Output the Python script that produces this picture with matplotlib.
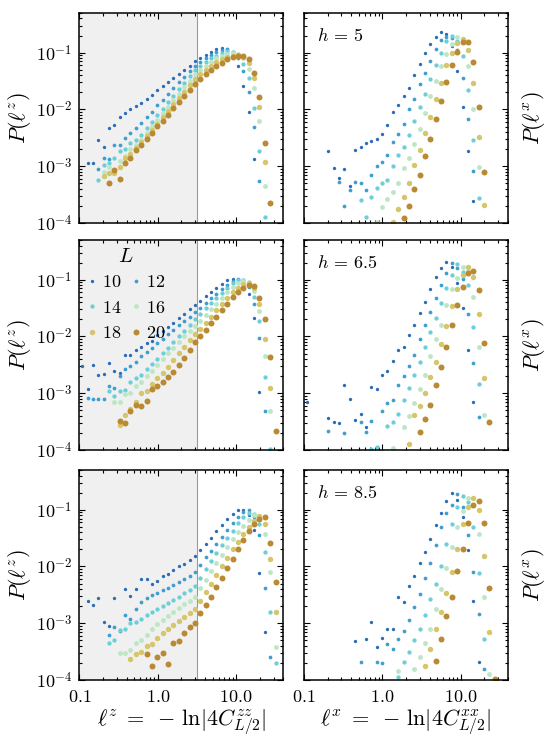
import numpy as np
import matplotlib
matplotlib.use('Agg')
import matplotlib.pyplot as plt
import matplotlib.ticker as ticker

plt.rcParams['mathtext.fontset'] = 'cm'
plt.rcParams['font.family'] = ['DejaVu Serif']

na = np.nan

# bin centres of the histograms (shared by every panel)
ell_bins = [0.1088, 0.1274, 0.1491, 0.1746, 0.2044, 0.2393, 0.2802, 0.3281, 0.3841,
            0.4498, 0.5266, 0.6166, 0.7220, 0.8453, 0.9897, 1.159, 1.357, 1.589,
            1.860, 2.178, 2.550, 2.985, 3.495, 4.093, 4.792, 5.610, 6.569, 7.691,
            9.005, 10.54, 12.35, 14.45, 16.92, 19.82, 23.20, 27.16, 31.81]

L_values = [10, 12, 14, 16, 18, 20]
h_values = ['5', '6.5', '8.5']
colors = ['#2b6cb7', '#3e9fcf', '#6ccfd8', '#bde7c4', '#d5c66b', '#b98a33']
msizes = [2.4, 2.7, 3.1, 3.5, 3.9, 4.3]
cut = 3.2   # end of the shaded region

# log10 P(l^z), h = 5 ; rows L = 10..20
z_h5 = [
    [na, -2.94, -2.94, -2.53, -2.66, -2.32, -2.27, -2.14, -2.06, -2.0, -1.94, -1.88, -1.81,
     -1.74, -1.66, -1.58, -1.51, -1.44, -1.37, -1.3, -1.23, -1.14, -1.09, -1.04, -0.99,
     -0.94, -0.91, -0.94, -1.04, -1.24, -1.58, -2.04, -2.88, na, na, na, na],
    [na, na, na, -3.05, -2.86, -2.88, -2.63, -2.62, -2.5, -2.42, -2.33, -2.24, -2.14,
     -2.04, -1.93, -1.83, -1.72, -1.62, -1.52, -1.42, -1.32, -1.23, -1.16, -1.1, -1.04,
     -0.99, -0.95, -0.94, -0.99, -1.1, -1.33, -1.7, -2.31, -3.26, na, na, na],
    [na, na, na, -3.24, -2.97, -2.94, -2.86, -2.73, -2.7, -2.6, -2.53, -2.45, -2.33,
     -2.22, -2.1, -1.99, -1.87, -1.76, -1.64, -1.53, -1.41, -1.3, -1.23, -1.16, -1.1,
     -1.05, -1.0, -0.97, -0.98, -1.04, -1.2, -1.45, -1.98, -2.74, -3.9, na, na],
    [na, na, na, na, -3.1, -3.02, -3.12, -2.9, -2.82, -2.7, -2.62, -2.53, -2.42,
     -2.3, -2.19, -2.07, -1.96, -1.84, -1.73, -1.61, -1.5, -1.38, -1.3, -1.23, -1.16,
     -1.1, -1.05, -1.02, -1.0, -1.02, -1.1, -1.28, -1.62, -2.2, -3.34, na, na],
    [na, na, na, na, -3.18, -3.12, -3.12, -3.02, -2.86, -2.78, -2.68, -2.58, -2.47,
     -2.36, -2.25, -2.13, -2.02, -1.91, -1.8, -1.69, -1.57, -1.46, -1.38, -1.3, -1.23,
     -1.17, -1.12, -1.08, -1.05, -1.04, -1.07, -1.18, -1.45, -1.96, -2.92, na, na],
    [na, na, na, na, na, -3.29, -3.06, -3.22, -2.95, -2.86, -2.72, -2.62, -2.52,
     -2.41, -2.3, -2.2, -2.09, -1.98, -1.87, -1.77, -1.66, -1.55, -1.46, -1.38, -1.31,
     -1.24, -1.18, -1.12, -1.08, -1.05, -1.06, -1.12, -1.35, -1.78, -2.6, -3.65, na],
]

# log10 P(l^x), h = 5
x_h5 = [
    [na, na, na, na, -2.74, -3.04, -3.2, -3.05, -3.35, -2.71, -2.67, -2.59, -2.55,
     -2.52, -2.43, -2.28, -2.05, -1.92, -1.76, -1.62, -1.39, -1.2, -1.01, -0.85, -0.72,
     -0.64, -0.67, -0.89, -1.33, -1.96, -2.74, -3.62, na, na, na, na, na],
    [na, na, na, na, na, na, -3.28, -3.7, -3.42, -3.27, -3.3, -3.42, -3.16,
     -3.0, -2.93, -2.81, -2.58, -2.43, -2.25, -2.0, -1.81, -1.56, -1.35, -1.14, -0.94,
     -0.78, -0.72, -0.74, -0.95, -1.45, -2.17, -3.08, na, na, na, na, na],
    [na, na, na, na, na, na, na, na, na, na, -3.6, -3.89, -3.55,
     -3.39, -3.29, -3.24, -3.0, -2.81, -2.66, -2.45, -2.21, -1.96, -1.73, -1.46, -1.22,
     -1.0, -0.8, -0.71, -0.8, -1.05, -1.66, -2.54, -3.56, na, na, na, na],
    [na, na, na, na, na, na, na, na, na, na, na, na, na,
     -3.98, -3.71, -3.57, -3.45, -3.29, -3.04, -2.86, -2.61, -2.35, -2.06, -1.77, -1.5,
     -1.24, -1.02, -0.84, -0.73, -0.78, -1.24, -1.99, -3.02, na, na, na, na],
    [na, na, na, na, na, na, na, na, na, na, na, na, na,
     na, na, na, -3.98, -3.76, -3.54, -3.3, -2.98, -2.72, -2.41, -2.13, -1.81,
     -1.54, -1.22, -1.0, -0.83, -0.76, -0.96, -1.53, -2.49, -3.69, na, na, na],
    [na, na, na, na, na, na, na, na, na, na, na, na, na,
     na, na, na, na, na, -3.92, -3.7, -3.41, -3.16, -2.82, -2.52, -2.16,
     -1.85, -1.52, -1.22, -0.98, -0.81, -0.82, -1.16, -1.95, -3.1, na, na, na],
]

# log10 P(l^z), h = 6.5
z_h65 = [
    [-2.52, -2.93, -2.51, -2.68, -2.66, -2.46, -2.6, -2.65, -2.33, -2.33, -2.24, -2.18, -2.12,
     -2.08, -1.98, -1.91, -1.84, -1.77, -1.68, -1.6, -1.52, -1.44, -1.37, -1.29, -1.21,
     -1.14, -1.07, -1.0, -0.98, -1.0, -1.07, -1.25, -1.67, -2.97, na, na, na],
    [na, -3.08, -3.1, -3.1, -3.1, -2.88, -2.9, -2.7, -2.58, -2.52, -2.45, -2.35, -2.28,
     -2.2, -2.12, -2.04, -1.96, -1.88, -1.8, -1.72, -1.65, -1.57, -1.49, -1.41, -1.33,
     -1.25, -1.17, -1.09, -1.03, -0.99, -1.01, -1.12, -1.42, -2.03, -3.32, na, na],
    [na, na, na, na, na, -2.96, -3.05, -2.96, -2.94, -2.81, -2.74, -2.68, -2.58,
     -2.48, -2.39, -2.3, -2.2, -2.1, -2.0, -1.9, -1.8, -1.7, -1.6, -1.5, -1.41,
     -1.32, -1.23, -1.14, -1.06, -1.01, -1.0, -1.08, -1.3, -1.72, -2.72, -3.98, na],
    [na, na, na, na, na, na, -3.16, -3.15, -3.02, -3.0, -2.88, -2.8, -2.7,
     -2.6, -2.5, -2.4, -2.3, -2.2, -2.1, -2.0, -1.91, -1.82, -1.72, -1.62, -1.52,
     -1.42, -1.32, -1.22, -1.13, -1.06, -1.02, -1.04, -1.2, -1.55, -2.35, -3.32, na],
    [na, na, na, na, na, na, na, -3.56, -3.38, -3.27, -3.15, -3.0, -2.96,
     -2.84, -2.74, -2.64, -2.54, -2.42, -2.3, -2.18, -2.06, -1.95, -1.86, -1.76, -1.65,
     -1.54, -1.43, -1.32, -1.22, -1.14, -1.08, -1.06, -1.14, -1.42, -2.05, -2.9, na],
    [na, na, na, na, na, na, na, -3.49, -3.52, -3.31, -3.2, -3.22, -3.13,
     -2.92, -2.88, -2.8, -2.72, -2.62, -2.5, -2.38, -2.24, -2.09, -2.0, -1.88, -1.77,
     -1.65, -1.53, -1.42, -1.31, -1.21, -1.14, -1.1, -1.11, -1.33, -1.7, -2.37, -3.66],
]

# log10 P(l^x), h = 6.5
x_h65 = [
    [-3.16, na, na, na, -3.43, -3.5, -3.52, -2.85, -3.1, -3.47, -3.36, -3.6, -2.89,
     -2.93, -2.68, -2.61, -2.43, -2.24, -2.18, -1.97, -1.8, -1.59, -1.4, -1.17, -0.96,
     -0.79, -0.68, -0.78, -1.05, -1.49, -2.23, -3.15, na, na, na, na, na],
    [na, na, na, na, -3.67, na, na, -3.7, na, na, -3.5, -3.68, -3.49,
     na, -3.31, -3.18, -3.12, -2.85, -2.69, -2.52, -2.33, -2.05, -1.79, -1.57, -1.32,
     -1.09, -0.88, -0.7, -0.8, -0.99, -1.6, -2.46, -3.42, na, na, na, na],
    [na, na, na, na, na, na, na, na, na, na, na, na, -3.98,
     -3.95, na, -3.57, -3.5, -3.36, -3.12, -2.91, -2.68, -2.45, -2.19, -1.93, -1.68,
     -1.41, -1.15, -0.91, -0.73, -0.87, -1.1, -1.84, -2.84, na, na, na, na],
    [na, na, na, na, na, na, na, na, na, na, na, na, na,
     na, na, na, -3.97, na, -3.6, -3.4, -3.18, -2.92, -2.68, -2.35, -2.05,
     -1.79, -1.45, -1.17, -0.97, -0.77, -0.85, -1.3, -2.19, -3.39, na, na, na],
    [na, na, na, na, na, na, na, na, na, na, na, na, na,
     na, na, na, na, na, na, -3.9, -3.38, -3.22, -3.0, -2.72, -2.45,
     -2.14, -1.82, -1.47, -1.16, -0.92, -0.78, -0.96, -1.61, -2.74, na, na, na],
    [na, na, na, na, na, na, na, na, na, na, na, na, na,
     na, na, na, na, na, na, na, na, -3.69, -3.45, -3.2, -2.86,
     -2.53, -2.19, -1.8, -1.45, -1.12, -0.88, -0.84, -1.19, -2.11, -3.51, na, na],
]

# log10 P(l^z), h = 8.5
z_h85 = [
    [na, -2.6, -2.68, -2.56, -2.97, -3.04, -2.55, na, -2.4, -2.52, -2.4, -2.22, -2.22,
     -2.3, -2.25, -2.17, -2.13, -2.07, -2.0, -1.95, -1.89, -1.82, -1.71, -1.6, -1.49,
     -1.38, -1.27, -1.16, -1.07, -1.01, -1.01, -1.1, -1.35, -2.11, -3.16, na, na],
    [na, na, na, na, na, -3.2, -3.07, -3.13, -2.85, -2.92, -2.75, -2.62, -2.56,
     -2.5, -2.47, -2.42, -2.38, -2.33, -2.28, -2.22, -2.17, -2.1, -1.97, -1.84, -1.72,
     -1.6, -1.48, -1.36, -1.24, -1.13, -1.04, -1.01, -1.12, -1.45, -2.37, -3.59, na],
    [na, na, na, na, na, -3.35, -3.3, -3.12, -3.1, -3.0, -2.98, -2.92, -2.85,
     -2.8, -2.75, -2.7, -2.64, -2.59, -2.53, -2.47, -2.41, -2.35, -2.2, -2.05, -1.91,
     -1.77, -1.63, -1.5, -1.37, -1.24, -1.12, -1.06, -1.08, -1.25, -1.75, -2.81, -3.7],
    [na, na, na, na, na, na, na, -3.52, -3.52, -3.47, -3.35, -3.3, -3.2,
     -3.1, -3.02, -2.95, -2.87, -2.8, -2.73, -2.66, -2.6, -2.53, -2.38, -2.23, -2.08,
     -1.94, -1.8, -1.66, -1.52, -1.4, -1.28, -1.18, -1.09, -1.15, -1.42, -2.1, -3.42],
    [na, na, na, na, na, na, na, na, na, -3.63, -3.55, -3.5, -3.4,
     -3.36, -3.26, -3.17, -3.1, -3.03, -2.96, -2.89, -2.82, -2.75, -2.6, -2.45, -2.3,
     -2.15, -2.0, -1.85, -1.7, -1.56, -1.43, -1.3, -1.19, -1.11, -1.25, -1.86, -2.81],
    [na, na, na, na, na, na, na, na, na, na, na, na, -3.55,
     -3.76, -3.6, -3.53, -3.71, -3.34, -3.32, -3.18, -3.07, -2.99, -2.82, -2.68, -2.53,
     -2.36, -2.2, -2.03, -1.86, -1.7, -1.54, -1.38, -1.25, -1.16, -1.12, -1.58, -2.27],
]

# log10 P(l^x), h = 8.5
x_h85 = [
    [na, na, na, na, na, na, na, na, na, -3.32, na, -3.28, -2.98,
     -3.41, -3.26, -3.1, -3.1, -2.54, -2.62, -2.35, -2.16, -1.94, -1.74, -1.52, -1.27,
     -1.06, -0.84, -0.71, -0.82, -1.12, -1.71, -2.6, -3.69, na, na, na, na],
    [na, na, na, na, na, na, na, na, na, na, -3.69, na, na,
     -3.69, -3.7, -3.37, -3.46, -3.27, -3.13, -2.95, -2.72, -2.48, -2.2, -1.93, -1.63,
     -1.31, -1.05, -0.92, -0.73, -0.95, -1.45, -2.1, -2.84, -3.8, na, na, na],
    [na, na, na, na, na, na, na, na, na, na, na, na, na,
     na, na, na, na, -3.95, -3.69, -3.5, -3.3, -3.1, -2.85, -2.57, -2.3,
     -2.0, -1.6, -1.25, -0.95, -0.75, -0.87, -1.3, -2.11, -3.28, na, na, na],
    [na, na, na, na, na, na, na, na, na, na, na, na, na,
     na, na, na, na, -3.84, na, na, -3.81, -3.6, -3.35, -3.1, -2.75,
     -2.4, -2.03, -1.65, -1.3, -1.02, -0.79, -0.92, -1.42, -2.53, -3.9, na, na],
    [na, na, na, na, na, na, na, na, na, na, na, na, na,
     na, na, na, na, na, na, na, na, na, -3.75, -3.45, -3.1,
     -2.8, -2.47, -2.09, -1.69, -1.26, -0.95, -0.8, -1.0, -1.81, -3.15, na, na],
    [na, na, na, na, na, na, na, na, na, na, na, na, na,
     na, na, na, na, na, na, na, na, na, na, na, -3.67,
     -3.27, -2.88, -2.53, -2.08, -1.69, -1.24, -0.92, -0.84, -1.24, -2.37, -3.98, na],
]

z_panels = [z_h5, z_h65, z_h85]
x_panels = [x_h5, x_h65, x_h85]


def style(ax, bottom, left):
    ax.set_xscale('log')
    ax.set_yscale('log')
    ax.set_xlim(0.1, 40)
    ax.set_ylim(1e-4, 0.5)
    ax.tick_params(which='both', direction='in', top=True, right=True,
                   width=0.8, labelsize=13)
    ax.tick_params(which='major', length=4.5)
    ax.tick_params(which='minor', length=2.5)
    ax.tick_params(axis='y', pad=5)
    ax.tick_params(axis='x', pad=6)
    for s in ax.spines.values():
        s.set_linewidth(1.1)
    ax.xaxis.set_major_locator(ticker.FixedLocator([0.1, 1.0, 10.0]))
    ax.xaxis.set_minor_locator(ticker.LogLocator(base=10, subs=np.arange(2, 10), numticks=20))
    ax.yaxis.set_major_locator(ticker.FixedLocator([1e-4, 1e-3, 1e-2, 1e-1]))
    ax.yaxis.set_minor_locator(ticker.LogLocator(base=10, subs=np.arange(2, 10), numticks=20))
    ax.xaxis.set_minor_formatter(ticker.NullFormatter())
    ax.yaxis.set_minor_formatter(ticker.NullFormatter())
    if bottom:
        ax.xaxis.set_major_formatter(ticker.FixedFormatter([r'$0.1$', r'$1.0$', r'$10.0$']))
    else:
        ax.xaxis.set_major_formatter(ticker.NullFormatter())
    if left:
        ax.yaxis.set_major_formatter(ticker.FixedFormatter(
            [r'$10^{-4}$', r'$10^{-3}$', r'$10^{-2}$', r'$10^{-1}$']))
    else:
        ax.yaxis.set_major_formatter(ticker.NullFormatter())


fig = plt.figure(figsize=(5.48, 7.51), dpi=100)

lefts = [0.1447, 0.5547]
bottoms = [0.7031, 0.4008, 0.0945]
w, h = 0.3723, 0.2796

for r in range(3):
    axz = fig.add_axes([lefts[0], bottoms[r], w, h])
    axx = fig.add_axes([lefts[1], bottoms[r], w, h])
    style(axz, r == 2, True)
    style(axx, r == 2, False)

    axz.axvspan(0.1, cut, color='#f0f0f0', zorder=0, lw=0)
    axz.axvline(cut, color='#9a9a9a', lw=0.8, zorder=1)

    handles = []
    for i, L in enumerate(L_values):
        pz = 10.0 ** np.array(z_panels[r][i])
        px = 10.0 ** np.array(x_panels[r][i])
        ln, = axz.plot(ell_bins, pz, 'o', ls='none', ms=msizes[i], color=colors[i],
                       mec='none', zorder=2, label=r'$%d$' % L)
        axx.plot(ell_bins, px, 'o', ls='none', ms=msizes[i], color=colors[i],
                 mec='none', zorder=2)
        handles.append(ln)

    axz.set_ylabel(r'$P(\ell^z)$', fontsize=16, labelpad=2)
    axx.yaxis.set_label_position('right')
    axx.set_ylabel(r'$P(\ell^x)$', fontsize=16, labelpad=9)
    axx.text(0.065, 0.935, r'$h\,=\,%s$' % h_values[r], transform=axx.transAxes,
             fontsize=13, va='top', ha='left')

    if r == 1:
        # legend filled row by row: 10 12 / 14 16 / 18 20
        order = [0, 2, 4, 1, 3, 5]
        axz.legend([handles[j] for j in order],
                   [r'$%d$' % L_values[j] for j in order],
                   title=r'$L$', ncol=2, loc='upper left', frameon=False,
                   fontsize=13, title_fontsize=15, handlelength=0.6,
                   handletextpad=0.25, columnspacing=0.5, labelspacing=0.4,
                   borderaxespad=0.2, borderpad=0.2)
    if r == 2:
        axz.set_xlabel(r'$\ell^z\;=\;-\,\ln|4C^{zz}_{L/2}|$', fontsize=16, labelpad=1)
        axx.set_xlabel(r'$\ell^x\;=\;-\,\ln|4C^{xx}_{L/2}|$', fontsize=16, labelpad=1)

fig.savefig('out.png', dpi=100)
